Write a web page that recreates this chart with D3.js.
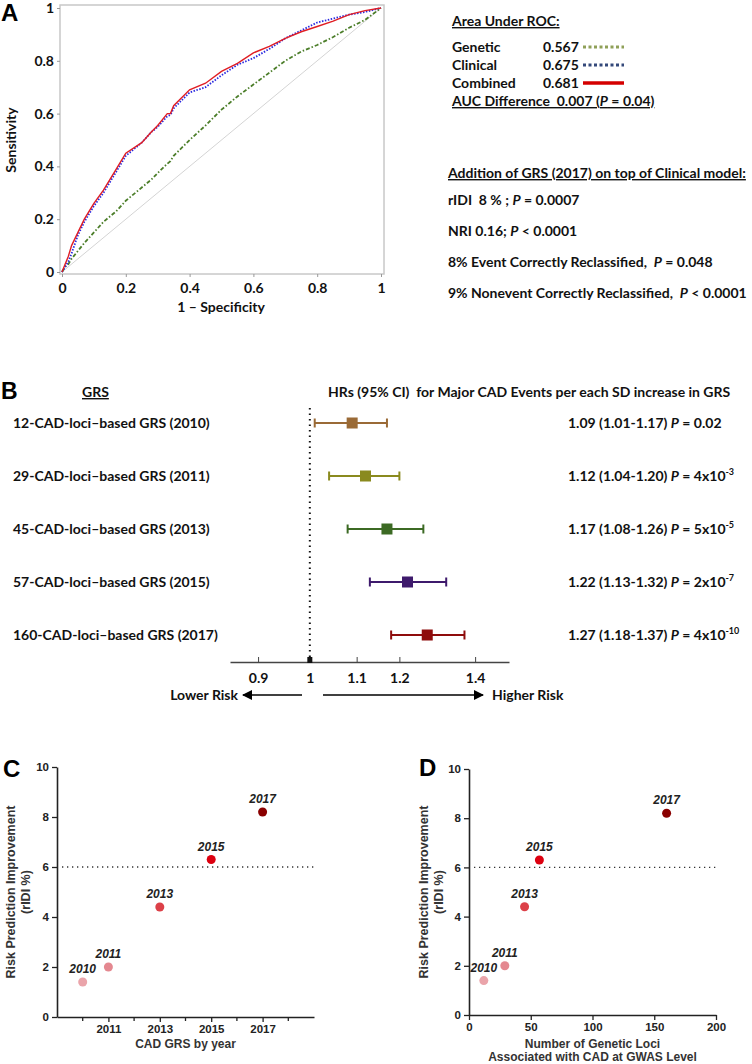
<!DOCTYPE html>
<html>
<head>
<meta charset="utf-8">
<script src="https://cdn.jsdelivr.net/npm/d3@7"></script>
<style>
  body { margin: 0; background: #fff; }
  svg { display: block; }
  text { white-space: pre; }
  .cal { font-family: Lato, "Open Sans", sans-serif; font-weight: 700; fill: #111; }
  .ari { font-family: "Liberation Sans", Arial, sans-serif; font-weight: 700; fill: #222; }
</style>
</head>
<body>
<div id="fig"></div>
<script>
// ROC curves (panel A)
const rocFpr = [0, 0.01, 0.02, 0.03, 0.05, 0.07, 0.1, 0.13, 0.15, 0.17, 0.2, 0.25, 0.28, 0.3, 0.33, 0.34, 0.35, 0.4, 0.45, 0.5, 0.55, 0.6, 0.65, 0.7, 0.75, 0.8, 0.85, 0.9, 0.95, 1];
const rocCombined = [0, 0.03, 0.06, 0.1, 0.15, 0.2, 0.26, 0.31, 0.35, 0.39, 0.45, 0.49, 0.53, 0.555, 0.6, 0.6, 0.63, 0.69, 0.715, 0.76, 0.79, 0.83, 0.855, 0.885, 0.91, 0.93, 0.95, 0.975, 0.99, 1];
const rocClinical = [0, 0.02, 0.04, 0.07, 0.14, 0.19, 0.25, 0.3, 0.34, 0.38, 0.44, 0.49, 0.53, 0.55, 0.59, 0.595, 0.62, 0.68, 0.70, 0.745, 0.785, 0.81, 0.845, 0.885, 0.915, 0.945, 0.96, 0.975, 0.985, 1];
const rocGenetic = [0, 0.02, 0.03, 0.05, 0.08, 0.11, 0.15, 0.19, 0.21, 0.23, 0.27, 0.32, 0.35, 0.375, 0.41, 0.42, 0.44, 0.5, 0.555, 0.615, 0.665, 0.71, 0.755, 0.80, 0.835, 0.86, 0.89, 0.925, 0.955, 1];
const rocTicks = [0, 0.2, 0.4, 0.6, 0.8, 1];

const aucNames = ["Genetic", "Clinical", "Combined"];
const aucValues = ["0.567", "0.675", "0.681"];

// forest plot (panel B)
const grsLabels = ["12-CAD-loci\u2013based GRS (2010)", "29-CAD-loci\u2013based GRS (2011)", "45-CAD-loci\u2013based GRS (2013)", "57-CAD-loci\u2013based GRS (2015)", "160-CAD-loci\u2013based GRS (2017)"];
const hr = [1.09, 1.12, 1.17, 1.22, 1.27];
const hrLow = [1.01, 1.04, 1.08, 1.13, 1.18];
const hrHigh = [1.17, 1.20, 1.26, 1.32, 1.37];
const pBase = ["0.02", "4x10", "5x10", "2x10", "4x10"];
const pExp = ["", "-3", "-5", "-7", "-10"];
const hrTicks = [0.9, 1, 1.1, 1.2, 1.4];

// panels C and D
const years = [2010, 2011, 2013, 2015, 2017];
const loci = [12, 29, 45, 57, 160];
const ridi = [1.4, 2.0, 4.4, 6.3, 8.2];
const yearTicks = [2011, 2013, 2015, 2017];
const yearMinor = [2010, 2012, 2014, 2016, 2018];

const forestColors = ["#9a6a36", "#8a8a1e", "#3c6a24", "#3e1a6c", "#8e0c0c"];
const pointColors = ["#eaa4aa", "#e48890", "#dc4048", "#dc0010", "#8a0000"];

const svg = d3.select("#fig").append("svg").attr("width", 752).attr("height", 1064);

// ---------- Panel A ----------
const ax = d3.scaleLinear().domain([0, 1]).range([62, 381]);
const ay = d3.scaleLinear().domain([0, 1]).range([272, 8]);

svg.append("rect").attr("x", 60).attr("y", 5).attr("width", 324).attr("height", 269)
    .attr("fill", "none").attr("stroke", "#c8c8c8").attr("stroke-width", 1.5);

const aY = svg.append("g").attr("transform", "translate(60,0)")
    .call(d3.axisLeft(ay).tickValues(rocTicks).tickSize(3).tickFormat(d3.format("~g")));
aY.select(".domain").remove();
aY.selectAll("line").attr("stroke", "#999");
aY.selectAll("text").attr("class", "cal").style("font-size", "14px");

const aX = svg.append("g").attr("transform", "translate(0,274)")
    .call(d3.axisBottom(ax).tickValues(rocTicks).tickSize(3).tickFormat(d3.format("~g")));
aX.select(".domain").remove();
aX.selectAll("line").attr("stroke", "#999");
aX.selectAll("text").attr("class", "cal").style("font-size", "14px").attr("dy", "0.9em");

svg.append("line").attr("x1", ax(0)).attr("y1", ay(0)).attr("x2", ax(1)).attr("y2", ay(1))
    .attr("stroke", "#d4d4d4").attr("stroke-width", 1);

const rocLine = d3.line().x((d, i) => ax(rocFpr[i])).y(d => ay(d));
svg.append("path").datum(rocGenetic).attr("d", rocLine).attr("fill", "none")
    .attr("stroke", "#4c7e2a").attr("stroke-width", 1.8).attr("stroke-dasharray", "4,2,1.5,2");
svg.append("path").datum(rocClinical).attr("d", rocLine).attr("fill", "none")
    .attr("stroke", "#2a2ae0").attr("stroke-width", 1.8).attr("stroke-dasharray", "1.5,1.5");
svg.append("path").datum(rocCombined).attr("d", rocLine).attr("fill", "none")
    .attr("stroke", "#e01e24").attr("stroke-width", 1.4);

svg.append("text").attr("class", "cal").attr("x", 221).attr("y", 312)
    .attr("text-anchor", "middle").style("font-size", "14px").text("1 \u2013 Specificity");
svg.append("text").attr("class", "cal").attr("transform", "translate(16,140) rotate(-90)")
    .attr("text-anchor", "middle").style("font-size", "14px").text("Sensitivity");
svg.append("text").attr("class", "ari").attr("x", 1).attr("y", 21).style("font-size", "24px").style("fill", "#000").text("A");

// AUC legend
svg.append("text").attr("class", "cal").attr("x", 452).attr("y", 26).style("font-size", "14px")
    .style("text-decoration", "underline").text("Area Under ROC:");
const legendStyles = [
    { color: "#8fa058", dash: "3,2.5", w: 3 },
    { color: "#34497a", dash: "3,2.5", w: 3 },
    { color: "#d40000", dash: null, w: 3.5 }
];
aucNames.forEach((name, i) => {
    const y = 52 + i * 18;
    svg.append("text").attr("class", "cal").attr("x", 452).attr("y", y).style("font-size", "14px").text(name);
    svg.append("text").attr("class", "cal").attr("x", 543).attr("y", y).style("font-size", "14px").text(aucValues[i]);
    svg.append("line").attr("x1", 583).attr("x2", 624).attr("y1", y - 5).attr("y2", y - 5)
        .attr("stroke", legendStyles[i].color).attr("stroke-width", legendStyles[i].w)
        .attr("stroke-dasharray", legendStyles[i].dash);
});
const aucDiff = svg.append("text").attr("class", "cal").attr("x", 452).attr("y", 106).style("font-size", "14px")
    .style("text-decoration", "underline");
aucDiff.append("tspan").text("AUC Difference  0.007 (");
aucDiff.append("tspan").style("font-style", "italic").text("P");
aucDiff.append("tspan").text(" = 0.04)");

svg.append("text").attr("class", "cal").attr("x", 448).attr("y", 178).style("font-size", "14px")
    .style("text-decoration", "underline").text("Addition of GRS (2017) on top of Clinical model:");
const stats = [
    ["rIDI  8 % ; ", " = 0.0007"],
    ["NRI 0.16; ", " < 0.0001"],
    ["8% Event Correctly Reclassified,  ", " = 0.048"],
    ["9% Nonevent Correctly Reclassified,  ", " < 0.0001"]
];
stats.forEach((s, i) => {
    const t = svg.append("text").attr("class", "cal").attr("x", 448).attr("y", 205 + i * 31).style("font-size", "14px");
    t.append("tspan").text(s[0]);
    t.append("tspan").style("font-style", "italic").text("P");
    t.append("tspan").text(s[1]);
});

// ---------- Panel B ----------
svg.append("text").attr("class", "ari").attr("x", 1).attr("y", 399).style("font-size", "23px").style("fill", "#000").text("B");
svg.append("text").attr("class", "cal").attr("x", 82).attr("y", 397).style("font-size", "14px")
    .style("text-decoration", "underline").text("GRS");
svg.append("text").attr("class", "cal").attr("x", 328).attr("y", 397).style("font-size", "14px")
    .text("HRs (95% CI)  for Major CAD Events per each SD increase in GRS");

const fx = d3.scaleLog().domain([0.85, 1.5]).range([230, 509]);
const fy = d3.scalePoint().domain(grsLabels).range([423, 635]);

svg.append("line").attr("x1", fx(1)).attr("x2", fx(1)).attr("y1", 408).attr("y2", 660)
    .attr("stroke", "#111").attr("stroke-width", 2).attr("stroke-dasharray", "1.5,4");

const fAxis = svg.append("g").attr("transform", "translate(0,662)")
    .call(d3.axisBottom(fx).tickValues(hrTicks).tickSize(-5).tickSizeOuter(0).tickFormat(d3.format("~g")));
fAxis.select(".domain").attr("stroke", "#444").attr("stroke-width", 1.3);
fAxis.selectAll("line").attr("stroke", "#444");
fAxis.selectAll("text").attr("class", "cal").style("font-size", "14px").attr("dy", "1.25em");
svg.append("rect").attr("x", fx(1) - 2.5).attr("y", 657).attr("width", 5).attr("height", 6).attr("fill", "#111");

grsLabels.forEach((lab, i) => {
    const y = fy(lab);
    svg.append("text").attr("class", "cal").attr("x", 13).attr("y", y + 5).style("font-size", "14px").text(lab);
    const g = svg.append("g");
    g.append("line").attr("x1", fx(hrLow[i])).attr("x2", fx(hrHigh[i])).attr("y1", y).attr("y2", y)
        .attr("stroke", forestColors[i]).attr("stroke-width", 1.8);
    [hrLow[i], hrHigh[i]].forEach(v => {
        g.append("line").attr("x1", fx(v)).attr("x2", fx(v)).attr("y1", y - 4.5).attr("y2", y + 4.5)
            .attr("stroke", forestColors[i]).attr("stroke-width", 2);
    });
    g.append("rect").attr("x", fx(hr[i]) - 5.5).attr("y", y - 5.5).attr("width", 11).attr("height", 11)
        .attr("fill", forestColors[i]);
    const t = svg.append("text").attr("class", "cal").attr("x", 568).attr("y", y + 5).style("font-size", "14px");
    t.append("tspan").text(`${hr[i].toFixed(2)} (${hrLow[i].toFixed(2)}-${hrHigh[i].toFixed(2)}) `);
    t.append("tspan").style("font-style", "italic").text("P");
    t.append("tspan").text(` = ${pBase[i]}`);
    if (pExp[i]) t.append("tspan").attr("dy", -6).style("font-size", "9px").text(pExp[i]);
});

// risk arrows
svg.append("defs").append("marker").attr("id", "arr").attr("viewBox", "0 0 10 10")
    .attr("refX", 9).attr("refY", 5).attr("markerWidth", 10).attr("markerHeight", 10)
    .attr("markerUnits", "userSpaceOnUse").attr("orient", "auto")
    .append("path").attr("d", "M0,0L10,5L0,10Z").attr("fill", "#000");
svg.append("line").attr("x1", 302).attr("x2", 243).attr("y1", 695).attr("y2", 695)
    .attr("stroke", "#000").attr("stroke-width", 1.5).attr("marker-end", "url(#arr)");
svg.append("line").attr("x1", 323).attr("x2", 483).attr("y1", 695).attr("y2", 695)
    .attr("stroke", "#000").attr("stroke-width", 1.5).attr("marker-end", "url(#arr)");
svg.append("text").attr("class", "cal").attr("x", 238).attr("y", 700).attr("text-anchor", "end")
    .style("font-size", "14px").text("Lower Risk");
svg.append("text").attr("class", "cal").attr("x", 492).attr("y", 700).style("font-size", "14px").text("Higher Risk");

// ---------- Panels C and D ----------
function scatterPanel(opts) {
    const { letter, lx, ly, x, y, xvals, xAxis, xLabels, yLabelX } = opts;
    svg.append("text").attr("class", "ari").attr("x", lx).attr("y", ly).style("font-size", "24px")
        .style("fill", "#000").text(letter);

    const gy = svg.append("g").attr("transform", `translate(${x.range()[0]},0)`)
        .call(d3.axisLeft(y).tickValues([0, 2, 4, 6, 8, 10]).tickSize(5).tickSizeOuter(0));
    const gx = svg.append("g").attr("transform", `translate(0,${y(0)})`).call(xAxis);
    [gx, gy].forEach(g => {
        g.select(".domain").attr("stroke", "#222").attr("stroke-width", 1.6);
        g.selectAll("line").attr("stroke", "#222").attr("stroke-width", 1.3);
        g.selectAll("text").attr("class", "ari").style("font-size", "11.5px");
    });

    svg.append("line").attr("x1", x.range()[0] + 5).attr("x2", x.range()[1]).attr("y1", y(6)).attr("y2", y(6))
        .attr("stroke", "#333").attr("stroke-width", 1.3).attr("stroke-dasharray", "1.3,3.7");

    xvals.forEach((v, i) => {
        svg.append("circle").attr("cx", x(v)).attr("cy", y(ridi[i])).attr("r", 4.5).attr("fill", pointColors[i]);
        svg.append("text").attr("class", "ari").attr("x", x(v)).attr("y", y(ridi[i]) - 9)
            .attr("text-anchor", "middle").style("font-size", "12px").style("font-style", "italic")
            .text(years[i]);
    });

    const mid = (y(0) + y(10)) / 2;
    svg.append("text").attr("class", "ari").attr("transform", `translate(${yLabelX},${mid}) rotate(-90)`)
        .attr("text-anchor", "middle").style("font-size", "12.5px").style("fill", "#333")
        .text("Risk Prediction Improvement");
    svg.append("text").attr("class", "ari").attr("transform", `translate(${yLabelX + 15},${mid}) rotate(-90)`)
        .attr("text-anchor", "middle").style("font-size", "12.5px").style("fill", "#333").text("(rIDI %)");

    const cx = (x.range()[0] + x.range()[1]) / 2;
    xLabels.forEach((l, i) => {
        svg.append("text").attr("class", "ari").attr("x", cx).attr("y", 1048 + i * 12.5)
            .attr("text-anchor", "middle").style("font-size", "12px").style("fill", "#333").text(l);
    });
}

const cxs = d3.scaleLinear().domain([2009, 2019]).range([57, 314]);
const cys = d3.scaleLinear().domain([0, 10]).range([1017, 767]);
scatterPanel({
    letter: "C", lx: 3, ly: 777, x: cxs, y: cys, xvals: years,
    xAxis: g => {
        g.call(d3.axisBottom(cxs).tickValues(yearTicks).tickSize(5).tickSizeOuter(0).tickFormat(d3.format("d")));
        g.selectAll(".minor").data(yearMinor).enter().append("line").attr("class", "minor")
            .attr("x1", d => cxs(d)).attr("x2", d => cxs(d)).attr("y1", 0).attr("y2", 4);
    },
    xLabels: ["CAD GRS by year"], yLabelX: 15
});

const dxs = d3.scaleLinear().domain([0, 200]).range([469, 716]);
const dys = d3.scaleLinear().domain([0, 10]).range([1015, 769]);
scatterPanel({
    letter: "D", lx: 419, ly: 776, x: dxs, y: dys, xvals: loci,
    xAxis: g => g.call(d3.axisBottom(dxs).tickValues([0, 50, 100, 150, 200]).tickSize(5).tickSizeOuter(0)),
    xLabels: ["Number of Genetic Loci", "Associated with CAD at GWAS Level"], yLabelX: 428
});
d3.selectAll(".domain").attr("fill", "none");
</script>
</body>
</html>
